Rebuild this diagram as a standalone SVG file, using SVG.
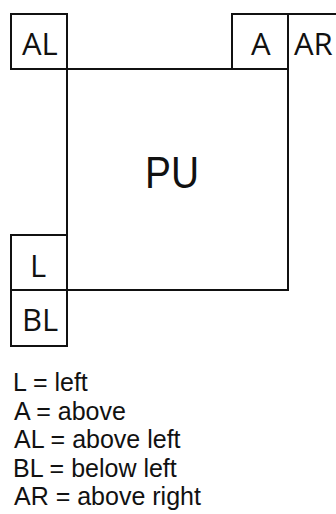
<svg xmlns="http://www.w3.org/2000/svg" width="336" height="514" viewBox="0 0 336 514">
<style>
.box{fill:none;stroke:#111;stroke-width:2}
.lbl{font-family:"Open Sans","DejaVu Sans",sans-serif;font-size:31px;fill:#111}
.pu{font-family:"Liberation Sans",Arial,sans-serif;font-size:45px;fill:#111}
.leg{font-family:"Liberation Sans",Arial,sans-serif;font-size:25px;fill:#111}
</style>
<rect width="336" height="514" fill="#fff"/>
<g id="PU">
<rect class="box" x="67" y="69" width="221" height="221"/>
<text class="pu" x="145" y="188" textLength="54" lengthAdjust="spacingAndGlyphs">PU</text>
</g>
<g id="AL">
<rect class="box" x="11" y="14" width="56" height="55"/>
<text class="lbl" x="22" y="55">AL</text>
</g>
<g id="A">
<rect class="box" x="232" y="14" width="56" height="55"/>
<text class="lbl" x="251" y="55">A</text>
</g>
<g id="AR">
<path class="box" d="M288 69V14H337"/>
<text class="lbl" x="294" y="55">AR</text>
</g>
<g id="L">
<rect class="box" x="11" y="235" width="56" height="55"/>
<text class="lbl" x="30" y="277">L</text>
</g>
<g id="BL">
<rect class="box" x="11" y="290" width="56" height="56"/>
<text class="lbl" x="22" y="331">BL</text>
</g>
<g id="connectors"></g>
<g id="legend">
<text class="leg" x="13" y="391">L = left</text>
<text class="leg" x="14" y="420">A = above</text>
<text class="leg" x="14" y="448">AL = above left</text>
<text class="leg" x="13" y="477">BL = below left</text>
<text class="leg" x="14" y="505">AR = above right</text>
</g>
</svg>
